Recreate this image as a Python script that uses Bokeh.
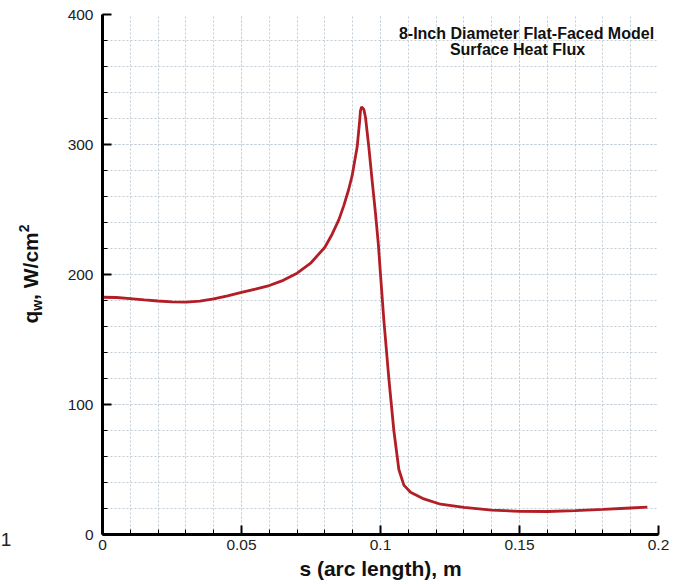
from bokeh.plotting import figure
from bokeh.models import Range1d, FixedTicker, Label, Div
from bokeh.layouts import row
from bokeh.embed import file_html
from bokeh.resources import INLINE

# ---- data ----
s_m = [0.0, 0.005, 0.01, 0.015, 0.02, 0.025, 0.03, 0.035, 0.04, 0.045,
       0.05, 0.055, 0.06, 0.065, 0.07, 0.075, 0.08, 0.0826, 0.085, 0.0868,
       0.0885, 0.0898, 0.0916, 0.0925, 0.0928, 0.0932, 0.094, 0.0946, 0.0958,
       0.097, 0.0982, 0.0992, 0.1, 0.1012, 0.103, 0.1048, 0.1066, 0.1084,
       0.1108, 0.1156, 0.1216, 0.13, 0.14, 0.15, 0.16, 0.17, 0.18, 0.19, 0.196]
q_w = [182.5, 182.3, 181.5, 180.5, 179.6, 179.0, 178.8, 179.5, 181.2, 183.5,
       186.2, 188.8, 191.5, 195.5, 201.0, 209.0, 221.0, 231.0, 242.0, 253.0,
       265.0, 276.0, 298.0, 318.0, 326.0, 329.0, 327.0, 321.0, 298.0,
       272.0, 247.0, 224.0, 200.0, 165.0, 120.0, 80.0, 50.0, 38.0,
       32.5, 27.4, 23.3, 20.8, 18.8, 17.8, 17.7, 18.3, 19.3, 20.4, 21.0]

x_ticks = [0, 0.05, 0.1, 0.15, 0.2]
x_tick_labels = ["0", "0.05", "0.1", "0.15", "0.2"]
x_minor = [0.0, 0.01, 0.02, 0.03, 0.04, 0.05, 0.06, 0.07, 0.08, 0.09, 0.1,
           0.11, 0.12, 0.13, 0.14, 0.15, 0.16, 0.17, 0.18, 0.19, 0.2]
y_ticks = [0, 100, 200, 300, 400]
y_tick_labels = ["0", "100", "200", "300", "400"]
y_minor = [0, 20, 40, 60, 80, 100, 120, 140, 160, 180, 200, 220, 240, 260,
           280, 300, 320, 340, 360, 380, 400]

title_lines = ["8-Inch Diameter Flat-Faced Model", "Surface Heat Flux"]
x_label = "s (arc length), m"
y_label_parts = ["q", "w", ", W/cm", "2"]
stray_label = "1"

FONT = "Liberation Sans"
LINE_COLOR = "#b21e26"
GRID_COLOR = "#c3ccd6"

p = figure(width=628, height=584, output_backend="svg", toolbar_location=None,
           x_range=Range1d(0, 0.2), y_range=Range1d(0, 400),
           min_border_left=42, min_border_right=30, min_border_top=14,
           min_border_bottom=50)
p.outline_line_color = None
p.background_fill_color = "white"
p.border_fill_color = "white"

p.line(s_m, q_w, line_color=LINE_COLOR, line_width=2.8)

for ax, ticks, minor, labels in ((p.xaxis[0], x_ticks, x_minor, x_tick_labels),
                                 (p.yaxis[0], y_ticks, y_minor, y_tick_labels)):
    ax.ticker = FixedTicker(ticks=ticks, minor_ticks=minor)
    ax.major_label_overrides = {t: l for t, l in zip(ticks, labels)}
    ax.axis_line_width = 3
    ax.axis_line_color = "black"
    ax.major_tick_in = 9
    ax.major_tick_out = 0
    ax.major_tick_line_width = 2
    ax.major_tick_line_color = "black"
    ax.minor_tick_in = 5
    ax.minor_tick_out = 0
    ax.minor_tick_line_width = 1
    ax.minor_tick_line_color = "black"
    ax.major_label_text_font = FONT
    ax.major_label_text_font_size = "15.5px"
    ax.major_label_text_color = "#222222"

p.yaxis[0].axis_label = None
p.yaxis[0].major_label_standoff = 9
xa = p.xaxis[0]
xa.major_label_standoff = 5
xa.axis_label = x_label
xa.axis_label_text_font = FONT
xa.axis_label_text_font_size = "21px"
xa.axis_label_text_font_style = "bold"
xa.axis_label_text_color = "#111111"
xa.axis_label_standoff = 4

for g in (p.xgrid[0], p.ygrid[0]):
    g.grid_line_color = GRID_COLOR
    g.grid_line_dash = "2 2"
    g.grid_line_width = 1
    g.minor_grid_line_color = GRID_COLOR
    g.minor_grid_line_dash = "2 2"
    g.minor_grid_line_width = 1

# title (two lines, inside the frame, top right)
p.add_layout(Label(x=424, y=501, x_units="screen", y_units="screen",
                   text=title_lines[0], text_font=FONT, text_font_size="16px",
                   text_font_style="bold", text_align="center",
                   text_baseline="middle", text_color="#111111"))
p.add_layout(Label(x=415, y=485, x_units="screen", y_units="screen",
                   text=title_lines[1], text_font=FONT, text_font_size="16px",
                   text_font_style="bold", text_align="center",
                   text_baseline="middle", text_color="#111111"))

# y axis title (q_w, W/cm^2) and the stray "1", as HTML text beside the plot
ylabel_html = (
    '<div style="position:relative;width:60px;height:584px;overflow:hidden;">'
    '<div style="position:absolute;left:-69px;top:262px;width:200px;height:24px;'
    'line-height:24px;text-align:center;white-space:nowrap;'
    'transform:rotate(-90deg);transform-origin:50% 50%;'
    "font-family:'Liberation Sans';font-weight:bold;font-size:21px;color:#111;\">"
    f'{y_label_parts[0]}'
    f'<span style="font-size:14px;vertical-align:-4px;line-height:0;">{y_label_parts[1]}</span>'
    f'{y_label_parts[2]}'
    f'<span style="font-size:14px;vertical-align:9px;line-height:0;">{y_label_parts[3]}</span>'
    '</div>'
    '<div style="position:absolute;left:0px;top:529px;width:12px;height:22px;'
    "line-height:22px;text-align:center;font-family:'Liberation Sans';"
    f'font-size:19px;color:#222;">{stray_label}</div>'
    '</div>'
)
side = Div(text=ylabel_html, width=60, height=584, margin=(0, 0, 0, 0))

layout = row(side, p, spacing=0)
open("out.html", "w").write(file_html(layout, INLINE))
